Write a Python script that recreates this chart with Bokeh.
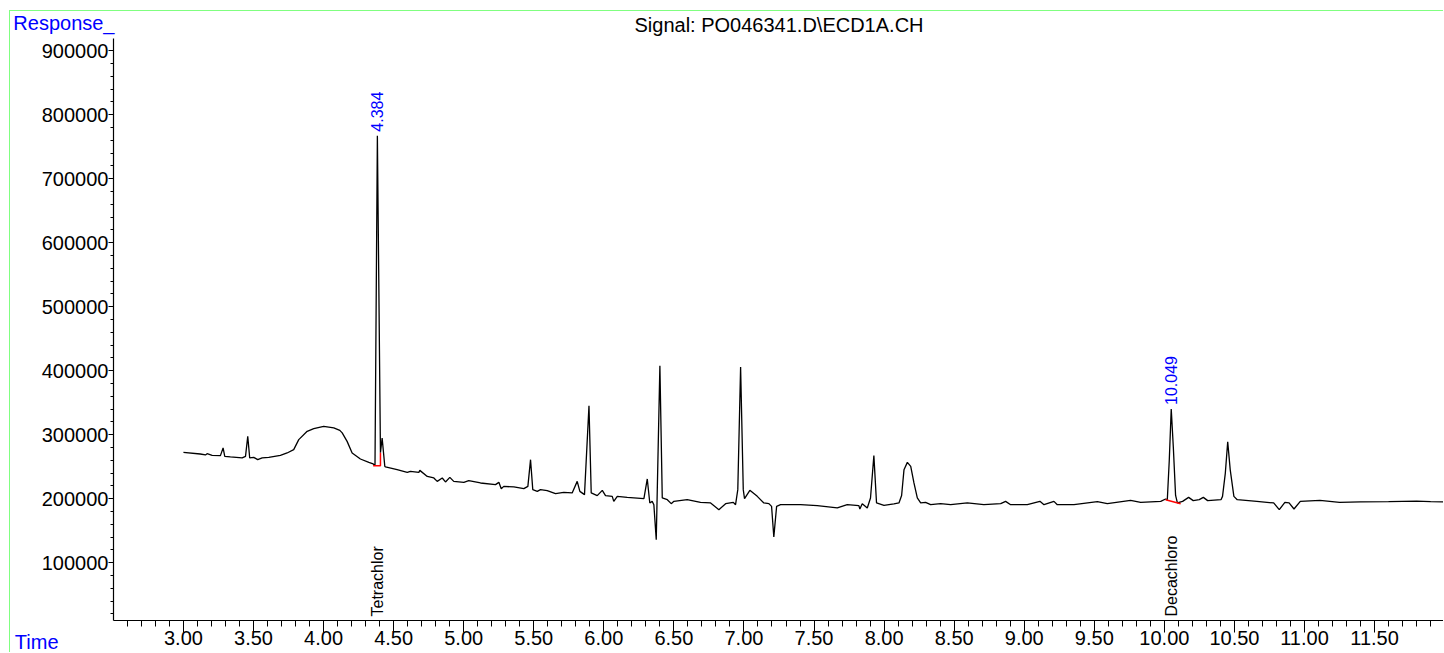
from math import pi
from bokeh.plotting import figure
from bokeh.models import (Range1d, SingleIntervalTicker, NumeralTickFormatter, Title,
                          LabelSet, ColumnDataSource, LinearAxis, FixedTicker)
from bokeh.core.properties import value
from bokeh.embed import file_html
from bokeh.resources import INLINE

# ---------------- data ----------------
times = [
    3.00, 3.12, 3.157, 3.169, 3.205, 3.264, 3.283, 3.295, 3.335, 3.419,
    3.443, 3.459, 3.473, 3.502, 3.530, 3.562, 3.609, 3.692, 3.740, 3.787,
    3.823, 3.883, 3.930, 4.001, 4.073, 4.116, 4.133, 4.168, 4.204, 4.263,
    4.323, 4.354, 4.367, 4.384, 4.406, 4.418, 4.437, 4.442, 4.525, 4.597,
    4.620, 4.680, 4.687, 4.740, 4.787, 4.811, 4.847, 4.870, 4.901, 4.929,
    5.001, 5.036, 5.120, 5.227, 5.251, 5.268, 5.286, 5.358, 5.429, 5.458,
    5.477, 5.493, 5.525, 5.548, 5.596, 5.655, 5.714, 5.774, 5.810, 5.829,
    5.862, 5.894, 5.910, 5.953, 5.989, 6.012, 6.060, 6.071, 6.096, 6.167,
    6.286, 6.310, 6.328, 6.345, 6.357, 6.374, 6.400, 6.417, 6.453, 6.481,
    6.500, 6.595, 6.690, 6.762, 6.821, 6.869, 6.924, 6.940, 6.956, 6.976,
    6.995, 7.004, 7.042, 7.095, 7.142, 7.178, 7.197, 7.213, 7.233, 7.261,
    7.404, 7.523, 7.666, 7.737, 7.820, 7.827, 7.844, 7.880, 7.903, 7.927,
    7.946, 7.999, 8.070, 8.106, 8.125, 8.142, 8.166, 8.190, 8.213, 8.237,
    8.261, 8.296, 8.332, 8.403, 8.475, 8.594, 8.712, 8.832, 8.867, 8.903,
    9.022, 9.112, 9.141, 9.212, 9.236, 9.355, 9.522, 9.593, 9.759, 9.831,
    9.974, 10.009, 10.021, 10.035, 10.049, 10.064, 10.080, 10.093, 10.130, 10.173,
    10.206, 10.249, 10.278, 10.309, 10.404, 10.415, 10.435, 10.452, 10.470, 10.496,
    10.520, 10.660, 10.780, 10.820, 10.860, 10.890, 10.925, 10.970, 11.110, 11.250,
    11.400, 11.600, 11.800, 11.900, 12.000,
]
responses = [
    272300, 269800, 268300, 270300, 267700, 267200, 279200, 266100, 265200, 263600,
    266100, 297300, 263600, 264500, 260900, 263600, 264500, 267700, 271400, 276600,
    292200, 305200, 309400, 313000, 310500, 306700, 302700, 289500, 271400, 262000,
    256700, 254200, 251600, 767200, 271900, 294800, 250500, 249500, 245300, 241100,
    242700, 241100, 244200, 234800, 232300, 227000, 232300, 226100, 233300, 227000,
    225500, 228100, 224500, 221900, 225500, 215600, 219200, 218300, 215600, 219200,
    260900, 214100, 211400, 214100, 212500, 207800, 209800, 208900, 227000, 211400,
    206300, 345300, 208900, 204700, 213000, 204700, 203600, 195800, 203600, 202000,
    200000, 230800, 193300, 195800, 190600, 135900, 407800, 201100, 198400, 192200,
    195800, 198400, 194200, 193300, 182800, 192200, 194200, 190600, 214100, 405800,
    214100, 200000, 213000, 203600, 193300, 192200, 188000, 140200, 188000, 190600,
    190600, 189100, 185500, 190600, 189100, 183900, 192200, 185500, 201100, 267200,
    193300, 189500, 191700, 193300, 205000, 245300, 256700, 250500, 224500, 201100,
    193300, 194200, 190600, 192200, 190600, 193300, 190600, 192200, 195800, 190600,
    190600, 195800, 190600, 195800, 190600, 190600, 195300, 192200, 197300, 194200,
    195800, 199500, 198400, 260000, 340200, 280000, 205000, 193300, 195800, 202000,
    196900, 198400, 202000, 196900, 198400, 203600, 240000, 289000, 245000, 203600,
    198400, 195800, 193300, 182800, 194200, 193300, 183800, 195800, 197300, 194200,
    195000, 195300, 196000, 195300, 195000,
]

peak_rt = [4.384, 10.049]
peak_top = [767200, 340200]
peak_rt_labels = ["4.384", "10.049"]
compound_names = ["Tetrachlor", "Decachloro"]

baseline1_t = [4.354, 4.406, 4.406]
baseline1_v = [251600, 251600, 271900]
baseline2_t = [10.009, 10.116]
baseline2_v = [198400, 192200]

signal_title = "Signal: PO046341.D\\ECD1A.CH"
y_axis_name = "Response_"
x_axis_name = "Time"

x_start, x_end = 2.501, 11.999
y_start, y_end = 9625, 919000

# ---------------- layout ----------------
FONT = "Liberation Sans"
BLUE = "#0000ff"
GREEN = "#80ff80"
OFF_X, OFF_Y = 9, 10           # space left of / above the green frame lines
W, H = 1444 - OFF_X - 1, 653 - OFF_Y - 1
B_LEFT, B_TOP, B_BOTTOM = 103, 27, 33

p = figure(width=W, height=H, tools="",
           x_range=Range1d(x_start, x_end), y_range=Range1d(y_start, y_end),
           output_backend="svg", toolbar_location=None,
           min_border_left=B_LEFT, min_border_right=0,
           min_border_top=B_TOP, min_border_bottom=B_BOTTOM)
p.title = Title(text=signal_title, align="center", vertical_align="middle", standoff=3,
                text_font=FONT, text_font_size="20px", text_font_style="normal",
                text_color="black")
p.styles = {"margin-left": f"{OFF_X}px", "margin-top": f"{OFF_Y}px",
            "border-left": f"1px solid {GREEN}", "border-top": f"1px solid {GREEN}"}
p.outline_line_color = None
p.xgrid.visible = False
p.ygrid.visible = False
p.background_fill_color = "white"
p.border_fill_color = "white"

p.xaxis.ticker = SingleIntervalTicker(interval=0.5, num_minor_ticks=5)
p.xaxis.formatter = NumeralTickFormatter(format="0.00")
p.yaxis.ticker = SingleIntervalTicker(interval=100000, num_minor_ticks=5)
p.yaxis.formatter = NumeralTickFormatter(format="0")
for ax in (p.xaxis[0], p.yaxis[0]):
    ax.major_label_text_font = FONT
    ax.major_label_text_font_size = "20px"
    ax.major_label_text_color = "black"
    ax.axis_line_color = "black"
    ax.axis_line_width = 1.2
    ax.major_tick_line_color = "black"
    ax.minor_tick_line_color = "black"
    ax.major_tick_in = 0
    ax.minor_tick_in = 0
p.xaxis.major_tick_out = 12
p.xaxis.minor_tick_out = 6
p.xaxis.major_label_standoff = -2
p.yaxis.major_tick_out = 5
p.yaxis.minor_tick_out = 3
p.yaxis.major_label_standoff = 0


def name_axis(text, align, standoff, line_height):
    """A bare axis (no line, no ticks) that only carries a horizontal name."""
    return LinearAxis(ticker=FixedTicker(ticks=[]),
                      axis_label=text, axis_label_align=align,
                      axis_label_orientation="horizontal",
                      axis_label_standoff=standoff,
                      axis_label_text_font=FONT, axis_label_text_font_size="20px",
                      axis_label_text_font_style="normal", axis_label_text_color=BLUE,
                      axis_label_text_line_height=line_height,
                      axis_line_color=None, major_tick_line_color=None,
                      minor_tick_line_color=None, major_tick_in=0, major_tick_out=0,
                      minor_tick_in=0, minor_tick_out=0, major_label_standoff=0)


# "Response_" at the top-left corner, "Time" at the bottom-left corner
p.add_layout(name_axis(y_axis_name + "\n", "end", -76, 1.45), "left")
p.add_layout(name_axis("\n" + x_axis_name, "start", -48, 1.98), "left")

# signal trace
p.line(times, responses, line_color="black", line_width=1.3)
# integration baselines
p.line(baseline1_t, baseline1_v, line_color="red", line_width=1.5)
p.line(baseline2_t, baseline2_v, line_color="red", line_width=1.5)

# retention-time labels above the integrated peaks
rt_src = ColumnDataSource(dict(x=peak_rt, y=peak_top, text=peak_rt_labels))
p.add_layout(LabelSet(x="x", y="y", text="text", source=rt_src, angle=pi / 2,
                      text_align="left", text_baseline="middle", y_offset=4,
                      text_color=BLUE, text_font=value(FONT), text_font_size="16px"))
# compound names along the time axis
cmp_src = ColumnDataSource(dict(x=peak_rt, text=compound_names))
p.add_layout(LabelSet(x="x", y=4, y_units="screen", text="text", source=cmp_src,
                      angle=pi / 2, text_align="left", text_baseline="middle",
                      text_color="black", text_font=value(FONT), text_font_size="16px"))

open("out.html", "w").write(file_html(p, INLINE))
